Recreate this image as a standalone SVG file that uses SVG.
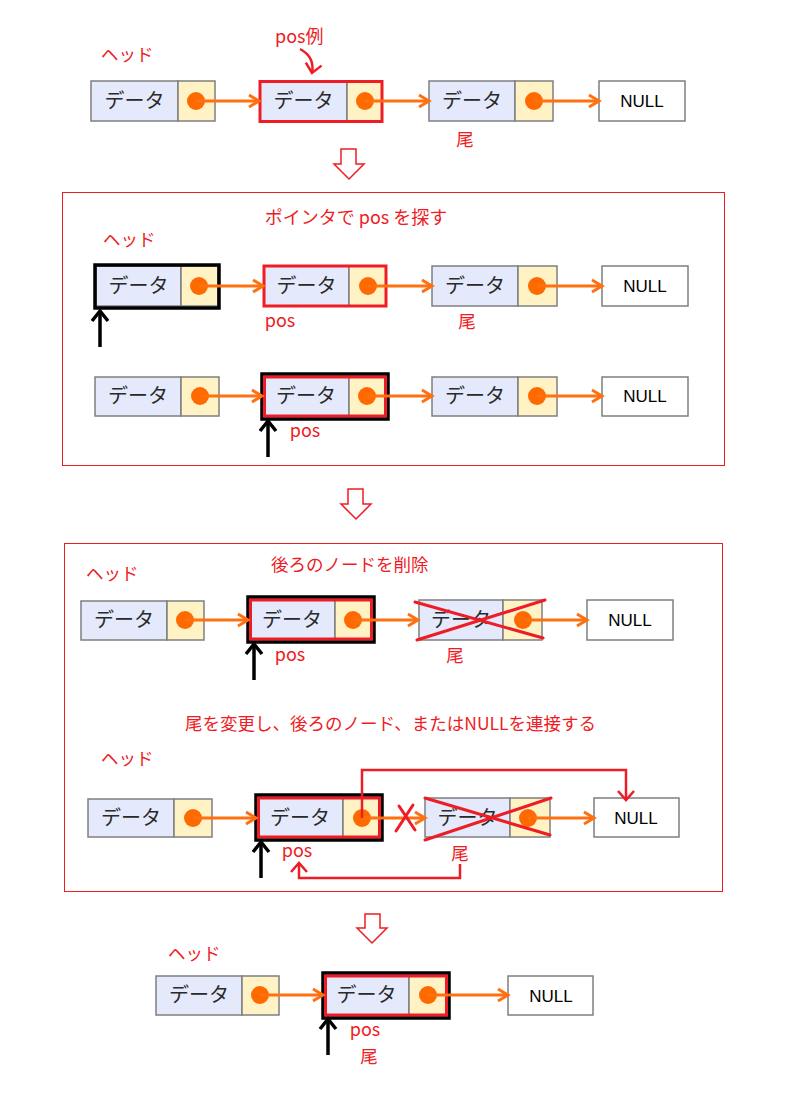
<svg xmlns="http://www.w3.org/2000/svg" width="793" height="1097" viewBox="0 0 793 1097">
<style>
.d{fill:#e4e9fb;stroke:#7f7f7f;stroke-width:1.5}
.p{fill:#fff3c6;stroke:#7f7f7f;stroke-width:1.5}
.n{fill:#ffffff;stroke:#7f7f7f;stroke-width:1.5}
.c{fill:#ff6a00}
.dt{font-family:"Noto Sans CJK JP","Noto Sans",sans-serif;font-size:20px;fill:#2a2a2a;text-anchor:middle}
.nt{font-family:"Liberation Sans",Arial,sans-serif;font-size:17px;fill:#000;text-anchor:middle}
.lb{font-family:"Noto Sans CJK JP","Noto Sans",sans-serif;font-size:17.5px;fill:#ee1c25}
.lbs{font-family:"Noto Sans CJK JP","Noto Sans",sans-serif;font-size:18px;fill:#ee1c25}
.oa{stroke:#ff7010;stroke-width:3;fill:none;marker-end:url(#oh)}
.ka{stroke:#000;stroke-width:3.5;fill:none;marker-end:url(#kh)}
.rb{fill:none;stroke:#ee1c25;stroke-width:3}
.kb{fill:none;stroke:#000;stroke-width:3.5}
.rl{fill:none;stroke:#ee1c25;stroke-width:2.5}
.fr{fill:none;stroke:#ee1c25;stroke-width:1}
.ha{fill:#fff;stroke:#ee1c25;stroke-width:1.5}
.x{stroke:#ee1c25;stroke-width:3;stroke-linecap:round}
</style>
<defs>
<marker id="oh" markerUnits="userSpaceOnUse" markerWidth="16" markerHeight="16" refX="13" refY="8" orient="auto">
<path d="M3,2 L13,8 L3,14" fill="none" stroke="#ff7010" stroke-width="3"/>
</marker>
<marker id="kh" markerUnits="userSpaceOnUse" markerWidth="20" markerHeight="20" refX="14" refY="10" orient="auto">
<path d="M4,2 L14,10 L4,18" fill="none" stroke="#000" stroke-width="3.5"/>
</marker>
<marker id="rh" markerUnits="userSpaceOnUse" markerWidth="20" markerHeight="20" refX="14" refY="10" orient="auto">
<path d="M5,2 L14,10 L5,18" fill="none" stroke="#ee1c25" stroke-width="2.5"/>
</marker>
</defs>
<rect width="793" height="1097" fill="#fff"/>

<!-- frames -->
<rect class="fr" x="62.5" y="192.5" width="662" height="273"/>
<rect class="fr" x="64.5" y="543.5" width="658" height="348"/>

<!-- hollow arrows -->
<polygon class="ha" points="341,149 356,149 356,164 364,164 349,179 334,164 341,164"/>
<polygon class="ha" points="348,489 363,489 363,504 371,504 356,519 341,504 348,504"/>
<polygon class="ha" points="365,914 380,914 380,928 387,928 372,943 357,928 365,928"/>

<!-- labels -->
<text class="lb" x="101" y="61">ヘッド</text>
<text class="lbs" x="275" y="43">pos例</text>
<text class="lbs" x="356" y="224" text-anchor="middle">ポインタで pos を探す</text>
<text class="lb" x="103" y="246">ヘッド</text>
<text class="lb" x="86" y="580">ヘッド</text>
<text class="lb" x="271" y="571">後ろのノードを削除</text>
<text class="lb" x="185" y="730">尾を変更し、後ろのノード、またはNULLを連接する</text>
<text class="lb" x="101" y="765">ヘッド</text>
<text class="lb" x="168" y="960">ヘッド</text>
<text class="lb" x="465" y="146" text-anchor="middle">尾</text>
<text class="lbs" x="280" y="327" text-anchor="middle">pos</text>
<text class="lb" x="467" y="328" text-anchor="middle">尾</text>
<text class="lbs" x="305" y="437" text-anchor="middle">pos</text>
<text class="lbs" x="290" y="661" text-anchor="middle">pos</text>
<text class="lb" x="455" y="662" text-anchor="middle">尾</text>
<text class="lbs" x="297" y="857" text-anchor="middle">pos</text>
<text class="lb" x="460" y="860" text-anchor="middle">尾</text>
<text class="lbs" x="365" y="1036" text-anchor="middle">pos</text>
<text class="lb" x="369" y="1063" text-anchor="middle">尾</text>

<!-- Row 1 -->
<g id="r1n1"><rect class="d" x="91" y="81" width="87" height="40"/><rect class="p" x="178" y="81" width="37" height="40"/><text class="dt" x="134.5" y="108">データ</text><circle class="c" cx="196" cy="101" r="9"/></g>
<g id="r1n2"><rect class="d" x="260" y="81" width="87" height="40"/><rect class="p" x="347" y="81" width="35" height="40"/><text class="dt" x="303.5" y="108">データ</text><circle class="c" cx="365" cy="101" r="9"/><rect class="rb" x="260" y="81.5" width="122" height="40"/></g>
<g id="r1n3"><rect class="d" x="429" y="81" width="86" height="40"/><rect class="p" x="515" y="81" width="38" height="40"/><text class="dt" x="472" y="108">データ</text><circle class="c" cx="534" cy="101" r="9"/></g>
<g id="r1null"><rect class="n" x="599" y="81" width="86" height="40"/><text class="nt" x="642" y="107">NULL</text></g>

<!-- Row 2 -->
<g id="r2n1"><rect class="d" x="96" y="266" width="85" height="40"/><rect class="p" x="181" y="266" width="37" height="40"/><text class="dt" x="138.5" y="293">データ</text><circle class="c" cx="199" cy="286" r="9"/><rect class="kb" x="95" y="265" width="124" height="43"/></g>
<g id="r2n2"><rect class="d" x="264" y="266" width="85" height="40"/><rect class="p" x="349" y="266" width="37" height="40"/><text class="dt" x="306.5" y="293">データ</text><circle class="c" cx="368" cy="286" r="9"/><rect class="rb" x="264" y="266" width="122" height="40"/></g>
<g id="r2n3"><rect class="d" x="432" y="266" width="86" height="40"/><rect class="p" x="518" y="266" width="39" height="40"/><text class="dt" x="475" y="293">データ</text><circle class="c" cx="537" cy="286" r="9"/></g>
<g id="r2null"><rect class="n" x="602" y="266" width="86" height="40"/><text class="nt" x="645" y="292">NULL</text></g>

<!-- Row 3 -->
<g id="r3n1"><rect class="d" x="95" y="377" width="86" height="39"/><rect class="p" x="181" y="377" width="38" height="39"/><text class="dt" x="138" y="403">データ</text><circle class="c" cx="200" cy="396" r="9"/></g>
<g id="r3n2"><rect class="d" x="263" y="376" width="86" height="41"/><rect class="p" x="349" y="376" width="38" height="41"/><text class="dt" x="306" y="403">データ</text><circle class="c" cx="367" cy="396" r="9"/><rect class="kb" x="262" y="374" width="126" height="45"/><rect class="rb" x="264.5" y="377" width="121" height="39" stroke-width="2.5"/></g>
<g id="r3n3"><rect class="d" x="432" y="377" width="86" height="39"/><rect class="p" x="518" y="377" width="39" height="39"/><text class="dt" x="475" y="403">データ</text><circle class="c" cx="537" cy="396" r="9"/></g>
<g id="r3null"><rect class="n" x="602" y="377" width="86" height="39"/><text class="nt" x="645" y="402">NULL</text></g>

<!-- Row 4 -->
<g id="r4n1"><rect class="d" x="81" y="601" width="86" height="39"/><rect class="p" x="167" y="601" width="37" height="39"/><text class="dt" x="124" y="627">データ</text><circle class="c" cx="185" cy="620" r="9"/></g>
<g id="r4n2"><rect class="d" x="249" y="599" width="86" height="42"/><rect class="p" x="335" y="599" width="38" height="42"/><text class="dt" x="292" y="627">データ</text><circle class="c" cx="353" cy="620" r="9"/><rect class="kb" x="248" y="597" width="126" height="45"/><rect class="rb" x="250.5" y="600" width="121" height="39" stroke-width="2.5"/></g>
<g id="r4n3"><rect class="d" x="419" y="600" width="84" height="40"/><rect class="p" x="503" y="600" width="39" height="40"/><text class="dt" x="461" y="627">データ</text><circle class="c" cx="523" cy="620" r="9"/><line class="x" x1="415" y1="602" x2="543" y2="638"/><line class="x" x1="417" y1="640" x2="545" y2="600"/></g>
<g id="r4null"><rect class="n" x="587" y="600" width="86" height="40"/><text class="nt" x="630" y="626">NULL</text></g>

<!-- Row 5 -->
<g id="r5n1"><rect class="d" x="88" y="799" width="86" height="38"/><rect class="p" x="174" y="799" width="38" height="38"/><text class="dt" x="131" y="825">データ</text><circle class="c" cx="193" cy="818" r="9"/></g>
<g id="r5n2"><rect class="d" x="257" y="797" width="86" height="42"/><rect class="p" x="343" y="797" width="37" height="42"/><text class="dt" x="300" y="825">データ</text><circle class="c" cx="362" cy="818" r="9"/><rect class="kb" x="256" y="795" width="126" height="45"/><rect class="rb" x="258.5" y="798" width="121" height="39" stroke-width="2.5"/></g>
<g id="r5n3"><rect class="d" x="425" y="798" width="85" height="39"/><rect class="p" x="510" y="798" width="40" height="39"/><text class="dt" x="467.5" y="825">データ</text><circle class="c" cx="528" cy="818" r="9"/><line class="x" x1="425" y1="798" x2="550" y2="835"/><line class="x" x1="425" y1="840" x2="551" y2="798"/></g>
<g id="r5null"><rect class="n" x="594" y="798" width="85" height="39"/><text class="nt" x="636" y="824">NULL</text></g>

<!-- Row 6 -->
<g id="r6n1"><rect class="d" x="156" y="976" width="86" height="39"/><rect class="p" x="242" y="976" width="37" height="39"/><text class="dt" x="199" y="1002">データ</text><circle class="c" cx="260" cy="995" r="9"/></g>
<g id="r6n2"><rect class="d" x="324" y="974" width="85" height="42"/><rect class="p" x="409" y="974" width="37" height="42"/><text class="dt" x="366.5" y="1002">データ</text><circle class="c" cx="428" cy="995" r="9"/><rect class="kb" x="323" y="973" width="126" height="45"/><rect class="rb" x="325.5" y="976" width="121" height="39" stroke-width="2.5"/></g>
<g id="r6null"><rect class="n" x="508" y="976" width="85" height="39"/><text class="nt" x="551" y="1002">NULL</text></g>

<!-- connectors -->
<g id="connectors">
<line class="oa" x1="196" y1="101" x2="259" y2="101"/>
<line class="oa" x1="365" y1="101" x2="429" y2="101"/>
<line class="oa" x1="534" y1="101" x2="599" y2="101"/>
<line class="oa" x1="199" y1="286" x2="263" y2="286"/>
<line class="oa" x1="368" y1="286" x2="432" y2="286"/>
<line class="oa" x1="537" y1="286" x2="602" y2="286"/>
<line class="oa" x1="200" y1="396" x2="262" y2="396"/>
<line class="oa" x1="367" y1="396" x2="432" y2="396"/>
<line class="oa" x1="537" y1="396" x2="602" y2="396"/>
<line class="oa" x1="185" y1="620" x2="248" y2="620"/>
<line class="oa" x1="353" y1="620" x2="418" y2="620"/>
<line class="oa" x1="523" y1="620" x2="587" y2="620"/>
<line class="oa" x1="193" y1="818" x2="256" y2="818"/>
<line class="oa" x1="362" y1="818" x2="425" y2="818"/>
<line class="oa" x1="528" y1="818" x2="594" y2="818"/>
<line class="oa" x1="260" y1="995" x2="323" y2="995"/>
<line class="oa" x1="428" y1="995" x2="508" y2="995"/>
<line class="ka" x1="100" y1="347" x2="100" y2="311"/>
<line class="ka" x1="268" y1="457" x2="268" y2="421"/>
<line class="ka" x1="254" y1="680" x2="254" y2="644"/>
<line class="ka" x1="261" y1="878" x2="261" y2="842"/>
<line class="ka" x1="328" y1="1055" x2="328" y2="1019"/>
<path class="rl" d="M300,49 Q315,57 312,73" marker-end="url(#rh)"/>
<path class="rl" d="M362,818 V770 H626 V800" marker-end="url(#rh)"/>
<path class="rl" d="M460,864 V878 H299 V863" marker-end="url(#rh)"/>
<line class="x" x1="399" y1="806" x2="415" y2="830"/>
<line class="x" x1="413" y1="805" x2="396" y2="831"/>
</g>
</svg>
